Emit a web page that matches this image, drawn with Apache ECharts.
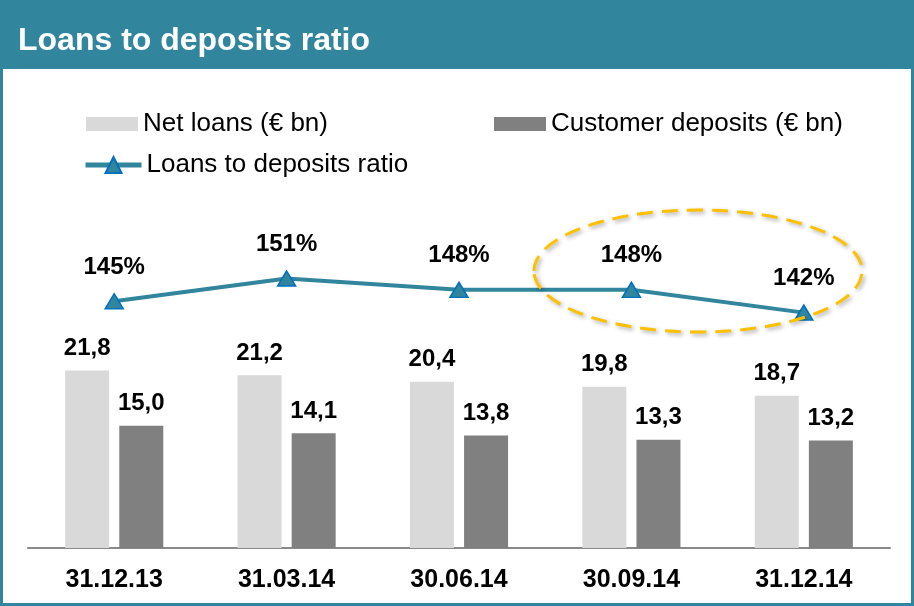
<!DOCTYPE html>
<html>
<head>
<meta charset="utf-8">
<script src="https://cdn.jsdelivr.net/npm/echarts@6/dist/echarts.min.js"></script>
<style>
  html, body { margin: 0; padding: 0; background: #fff; }
  #chart { width: 914px; height: 606px; }
</style>
</head>
<body>
<div id="chart"></div>
<script>
// data
const categories = ['31.12.13', '31.03.14', '30.06.14', '30.09.14', '31.12.14'];
const netLoans = [21.8, 21.2, 20.4, 19.8, 18.7];
const deposits = [15.0, 14.1, 13.8, 13.3, 13.2];
const ratio = [145, 151, 148, 148, 142];

const teal = '#31859c';
const font = "'Liberation Sans', Arial, sans-serif";

const chartDom = document.getElementById('chart');
const myChart = echarts.init(chartDom);

// 21.8 -> "21,8"
const fmtComma = p => p.value.toFixed(1).replace('.', ',');

const legendText = { fontSize: 26, color: '#000', lineHeight: 28 };

const option = {
    backgroundColor: teal,
    animation: false,
    textStyle: { fontFamily: font },
    title: {
        text: 'Loans to deposits ratio',
        left: 13,
        top: 20,
        textStyle: { color: '#fff', fontSize: 32, fontWeight: 'bold', fontFamily: font }
    },
    graphic: [
        {
            type: 'rect',
            z: -1,
            silent: true,
            shape: { x: 3, y: 69, width: 908, height: 534 },
            style: { fill: '#fff' }
        },
        {
            // dashed highlight round the last two quarters
            type: 'ellipse',
            z: 10,
            silent: true,
            shape: { cx: 698, cy: 271, rx: 164, ry: 61 },
            style: {
                fill: null,
                stroke: '#ffc000',
                lineWidth: 3,
                lineDash: [16, 9],
                shadowBlur: 4,
                shadowColor: 'rgba(0,0,0,0.35)',
                shadowOffsetX: 2,
                shadowOffsetY: 2
            }
        }
    ],
    legend: [
        {
            data: [{ name: 'Net loans (€ bn)', icon: 'rect' }],
            left: 86, top: 110, padding: 0,
            itemWidth: 52, itemHeight: 14,
            textStyle: legendText
        },
        {
            data: [{ name: 'Customer deposits (€ bn)', icon: 'rect' }],
            left: 494, top: 110, padding: 0,
            itemWidth: 52, itemHeight: 14,
            textStyle: legendText
        },
        {
            data: ['Loans to deposits ratio'],
            left: 83, top: 151, padding: 0,
            itemWidth: 56, itemHeight: 20,
            lineStyle: { width: 5 },
            textStyle: legendText
        }
    ],
    grid: { left: 28, right: 24, top: 100, bottom: 58 },
    xAxis: {
        type: 'category',
        data: categories,
        axisTick: { show: false },
        axisLine: { lineStyle: { color: '#898989', width: 2 } },
        axisLabel: { fontSize: 25, fontWeight: 'bold', color: '#000', margin: 20 }
    },
    yAxis: [
        { type: 'value', min: 0, max: 55, show: false },
        { type: 'value', min: 80, max: 198, show: false }
    ],
    series: [
        {
            name: 'Net loans (€ bn)',
            type: 'bar',
            data: netLoans,
            barWidth: 44,
            barGap: '23%',
            itemStyle: { color: '#d9d9d9' },
            label: {
                show: true, position: 'top', distance: 10,
                fontSize: 24, fontWeight: 'bold', color: '#000',
                formatter: fmtComma
            }
        },
        {
            name: 'Customer deposits (€ bn)',
            type: 'bar',
            data: deposits,
            barWidth: 44,
            itemStyle: { color: '#808080' },
            label: {
                show: true, position: 'top', distance: 10,
                fontSize: 24, fontWeight: 'bold', color: '#000',
                formatter: fmtComma
            }
        },
        {
            name: 'Loans to deposits ratio',
            type: 'line',
            yAxisIndex: 1,
            data: ratio,
            symbol: 'triangle',
            symbolSize: [18, 15],
            lineStyle: { color: teal, width: 4 },
            itemStyle: { color: teal, borderColor: '#0070c0', borderWidth: 1.5 },
            label: {
                show: true, position: 'top', distance: 14,
                fontSize: 24, fontWeight: 'bold', color: '#000',
                formatter: p => p.value + '%'
            },
            z: 5
        }
    ]
};

myChart.setOption(option);
</script>
</body>
</html>
